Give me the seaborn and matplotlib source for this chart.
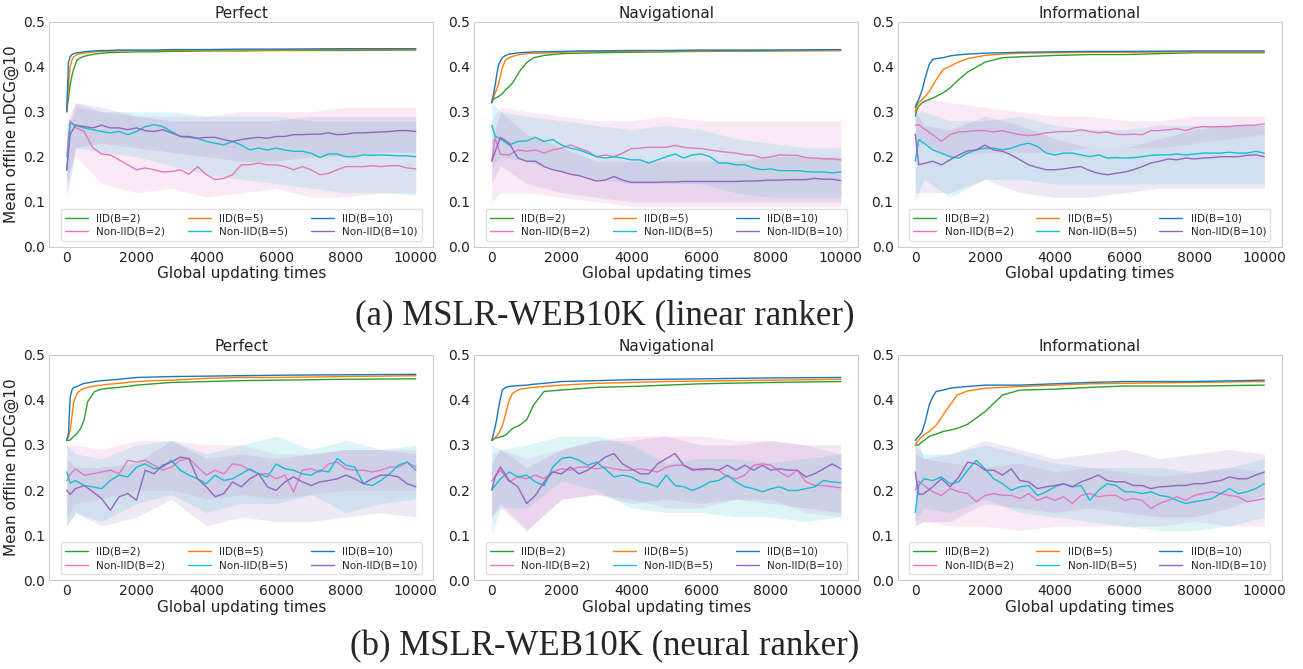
import matplotlib
matplotlib.use("Agg")
import matplotlib.pyplot as plt
import seaborn as sns

# x grids (global updating times)
X_IID = [0, 50, 100, 150, 200, 300, 400, 500, 600, 800, 1000, 1200, 1500,
         2000, 2500, 3000, 4000, 5000, 6000, 8000, 10000]
X_NON = [0, 100] + list(range(250, 10001, 250))
X_BAND = [0, 250, 1000, 2000, 3000, 4000, 5000, 6000, 7000, 8000, 9000, 10000]

# ---------- (a) linear ranker: Perfect ----------
lin_per_iid2 = [0.30, 0.33, 0.36, 0.38, 0.395, 0.415, 0.42, 0.423, 0.425, 0.428, 0.430,
                0.431, 0.432, 0.433, 0.433, 0.434, 0.435, 0.435, 0.436, 0.436, 0.437]
lin_per_iid5 = [0.30, 0.36, 0.40, 0.415, 0.422, 0.427, 0.429, 0.430, 0.431, 0.433, 0.434,
                0.434, 0.435, 0.436, 0.436, 0.436, 0.437, 0.437, 0.437, 0.438, 0.438]
lin_per_iid10 = [0.30, 0.41, 0.422, 0.427, 0.429, 0.431, 0.432, 0.433, 0.434, 0.435, 0.436,
                 0.436, 0.437, 0.437, 0.437, 0.438, 0.438, 0.439, 0.439, 0.440, 0.440]
lin_per_non2 = [0.20, 0.28, 0.265, 0.256, 0.22, 0.206, 0.204, 0.193, 0.182, 0.171, 0.175,
                0.171, 0.166, 0.167, 0.171, 0.161, 0.178, 0.160, 0.149, 0.152, 0.160, 0.182,
                0.182, 0.186, 0.182, 0.182, 0.178, 0.171, 0.178, 0.171, 0.160, 0.163, 0.171,
                0.178, 0.178, 0.178, 0.180, 0.178, 0.180, 0.180, 0.175, 0.173]
lin_per_non5 = [0.17, 0.275, 0.27, 0.264, 0.26, 0.256, 0.253, 0.256, 0.249, 0.256, 0.267,
                0.271, 0.267, 0.256, 0.245, 0.243, 0.241, 0.234, 0.23, 0.226, 0.234, 0.226,
                0.215, 0.219, 0.215, 0.219, 0.215, 0.212, 0.212, 0.208, 0.198, 0.206, 0.206,
                0.200, 0.200, 0.204, 0.203, 0.204, 0.203, 0.202, 0.202, 0.200]
lin_per_non10 = [0.17, 0.25, 0.27, 0.267, 0.264, 0.27, 0.264, 0.264, 0.26, 0.264, 0.258,
                 0.256, 0.26, 0.253, 0.245, 0.245, 0.241, 0.243, 0.243, 0.238, 0.234, 0.238,
                 0.241, 0.243, 0.241, 0.245, 0.245, 0.249, 0.249, 0.250, 0.250, 0.253, 0.249,
                 0.250, 0.253, 0.253, 0.254, 0.255, 0.256, 0.258, 0.258, 0.256]
lin_per_non2_lo = [0.12, 0.20, 0.14, 0.12, 0.13, 0.11, 0.12, 0.13, 0.11, 0.11, 0.12, 0.12]
lin_per_non2_hi = [0.28, 0.32, 0.30, 0.29, 0.29, 0.29, 0.30, 0.30, 0.30, 0.31, 0.31, 0.31]
lin_per_non5_lo = [0.11, 0.22, 0.21, 0.20, 0.18, 0.16, 0.15, 0.14, 0.13, 0.12, 0.12, 0.115]
lin_per_non5_hi = [0.24, 0.31, 0.30, 0.30, 0.30, 0.29, 0.29, 0.29, 0.28, 0.28, 0.28, 0.28]
lin_per_non10_lo = [0.14, 0.22, 0.23, 0.22, 0.21, 0.20, 0.19, 0.19, 0.20, 0.20, 0.21, 0.21]
lin_per_non10_hi = [0.26, 0.32, 0.31, 0.29, 0.28, 0.28, 0.28, 0.28, 0.29, 0.29, 0.29, 0.29]

# ---------- (a) linear ranker: Navigational ----------
lin_nav_iid2 = [0.32, 0.327, 0.33, 0.332, 0.334, 0.34, 0.349, 0.356, 0.364, 0.39, 0.409,
                0.42, 0.425, 0.429, 0.43, 0.431, 0.432, 0.433, 0.434, 0.435, 0.436]
lin_nav_iid5 = [0.32, 0.33, 0.342, 0.352, 0.364, 0.397, 0.416, 0.42, 0.423, 0.427, 0.429,
                0.43, 0.43, 0.432, 0.433, 0.434, 0.434, 0.435, 0.435, 0.436, 0.436]
lin_nav_iid10 = [0.32, 0.34, 0.36, 0.386, 0.405, 0.42, 0.425, 0.428, 0.429, 0.431, 0.432,
                 0.433, 0.433, 0.434, 0.435, 0.435, 0.436, 0.436, 0.437, 0.437, 0.438]
lin_nav_non2 = [0.19, 0.241, 0.205, 0.204, 0.215, 0.212, 0.215, 0.208, 0.215, 0.219, 0.226,
                0.219, 0.212, 0.200, 0.204, 0.200, 0.208, 0.218, 0.219, 0.221, 0.221, 0.221,
                0.225, 0.221, 0.219, 0.218, 0.215, 0.212, 0.210, 0.208, 0.204, 0.203, 0.197,
                0.200, 0.204, 0.203, 0.203, 0.198, 0.197, 0.195, 0.195, 0.193]
lin_nav_non5 = [0.27, 0.245, 0.24, 0.226, 0.234, 0.235, 0.243, 0.234, 0.238, 0.226, 0.219,
                0.215, 0.208, 0.200, 0.197, 0.200, 0.197, 0.193, 0.193, 0.186, 0.193, 0.200,
                0.206, 0.197, 0.204, 0.206, 0.200, 0.186, 0.186, 0.182, 0.182, 0.175, 0.171,
                0.173, 0.169, 0.169, 0.169, 0.167, 0.166, 0.166, 0.164, 0.166]
lin_nav_non10 = [0.19, 0.212, 0.243, 0.23, 0.197, 0.19, 0.19, 0.178, 0.171, 0.167, 0.161,
                 0.158, 0.152, 0.146, 0.148, 0.156, 0.148, 0.143, 0.143, 0.143, 0.143, 0.144,
                 0.144, 0.145, 0.145, 0.145, 0.145, 0.145, 0.145, 0.145, 0.146, 0.146, 0.147,
                 0.148, 0.148, 0.149, 0.149, 0.149, 0.152, 0.150, 0.150, 0.147]
lin_nav_non2_lo = [0.10, 0.12, 0.12, 0.11, 0.10, 0.09, 0.09, 0.09, 0.09, 0.09, 0.09, 0.09]
lin_nav_non2_hi = [0.28, 0.31, 0.30, 0.29, 0.28, 0.28, 0.29, 0.28, 0.28, 0.28, 0.28, 0.28]
lin_nav_non5_lo = [0.18, 0.20, 0.19, 0.17, 0.15, 0.14, 0.14, 0.14, 0.12, 0.11, 0.11, 0.11]
lin_nav_non5_hi = [0.32, 0.30, 0.29, 0.28, 0.27, 0.26, 0.27, 0.26, 0.24, 0.23, 0.22, 0.22]
lin_nav_non10_lo = [0.14, 0.18, 0.14, 0.12, 0.11, 0.10, 0.10, 0.10, 0.10, 0.10, 0.10, 0.10]
lin_nav_non10_hi = [0.24, 0.30, 0.25, 0.22, 0.19, 0.19, 0.19, 0.19, 0.19, 0.20, 0.20, 0.20]

# ---------- (a) linear ranker: Informational ----------
lin_inf_iid2 = [0.29, 0.305, 0.312, 0.316, 0.32, 0.324, 0.327, 0.33, 0.334, 0.342, 0.353,
                0.368, 0.388, 0.41, 0.42, 0.422, 0.425, 0.427, 0.427, 0.431, 0.431]
lin_inf_iid5 = [0.30, 0.315, 0.32, 0.324, 0.327, 0.335, 0.345, 0.358, 0.371, 0.394, 0.401,
                0.409, 0.418, 0.425, 0.428, 0.43, 0.431, 0.432, 0.432, 0.433, 0.433]
lin_inf_iid10 = [0.31, 0.32, 0.327, 0.338, 0.349, 0.379, 0.405, 0.416, 0.418, 0.42, 0.424,
                 0.426, 0.428, 0.43, 0.431, 0.432, 0.433, 0.434, 0.434, 0.435, 0.435]
lin_inf_non2 = [0.27, 0.271, 0.262, 0.249, 0.234, 0.249, 0.255, 0.256, 0.258, 0.258, 0.255,
                0.258, 0.253, 0.249, 0.247, 0.249, 0.253, 0.255, 0.256, 0.256, 0.260, 0.256,
                0.253, 0.255, 0.250, 0.249, 0.250, 0.249, 0.258, 0.258, 0.260, 0.262, 0.258,
                0.264, 0.267, 0.266, 0.267, 0.267, 0.269, 0.270, 0.270, 0.273]
lin_inf_non5 = [0.19, 0.238, 0.23, 0.215, 0.208, 0.200, 0.197, 0.208, 0.215, 0.219, 0.219,
                0.215, 0.219, 0.226, 0.230, 0.223, 0.208, 0.204, 0.208, 0.208, 0.204, 0.200,
                0.204, 0.197, 0.198, 0.197, 0.198, 0.200, 0.203, 0.204, 0.204, 0.206, 0.204,
                0.206, 0.208, 0.208, 0.208, 0.210, 0.208, 0.208, 0.212, 0.208]
lin_inf_non10 = [0.25, 0.182, 0.185, 0.19, 0.182, 0.193, 0.204, 0.213, 0.215, 0.226, 0.215,
                 0.212, 0.204, 0.193, 0.182, 0.176, 0.171, 0.171, 0.173, 0.176, 0.178, 0.169,
                 0.163, 0.160, 0.163, 0.166, 0.171, 0.178, 0.186, 0.190, 0.195, 0.193, 0.197,
                 0.195, 0.197, 0.198, 0.200, 0.200, 0.200, 0.203, 0.204, 0.200]
lin_inf_non2_lo = [0.22, 0.23, 0.20, 0.21, 0.21, 0.21, 0.22, 0.22, 0.22, 0.23, 0.24, 0.25]
lin_inf_non2_hi = [0.32, 0.33, 0.32, 0.31, 0.30, 0.29, 0.29, 0.28, 0.28, 0.29, 0.29, 0.29]
lin_inf_non5_lo = [0.10, 0.15, 0.11, 0.15, 0.15, 0.14, 0.14, 0.14, 0.14, 0.14, 0.14, 0.14]
lin_inf_non5_hi = [0.30, 0.30, 0.28, 0.28, 0.29, 0.27, 0.26, 0.26, 0.27, 0.27, 0.27, 0.27]
lin_inf_non10_lo = [0.12, 0.12, 0.12, 0.15, 0.12, 0.11, 0.11, 0.12, 0.13, 0.13, 0.13, 0.13]
lin_inf_non10_hi = [0.30, 0.27, 0.26, 0.29, 0.27, 0.24, 0.22, 0.22, 0.24, 0.26, 0.27, 0.27]

# ---------- (b) neural ranker: Perfect ----------
neu_per_iid2 = [0.31, 0.31, 0.311, 0.315, 0.319, 0.326, 0.337, 0.356, 0.396, 0.419, 0.424,
                0.426, 0.428, 0.433, 0.436, 0.439, 0.441, 0.443, 0.444, 0.446, 0.447]
neu_per_iid5 = [0.31, 0.318, 0.333, 0.363, 0.396, 0.415, 0.422, 0.426, 0.428, 0.431, 0.433,
                0.435, 0.437, 0.441, 0.443, 0.444, 0.448, 0.45, 0.45, 0.452, 0.454]
neu_per_iid10 = [0.31, 0.326, 0.407, 0.422, 0.428, 0.43, 0.434, 0.437, 0.438, 0.441, 0.443,
                 0.444, 0.446, 0.45, 0.451, 0.452, 0.453, 0.454, 0.455, 0.456, 0.457]
neu_per_non2 = [0.22, 0.235, 0.247, 0.233, 0.236, 0.240, 0.244, 0.236, 0.266, 0.262, 0.266,
                0.255, 0.244, 0.251, 0.266, 0.270, 0.251, 0.233, 0.244, 0.236, 0.258, 0.255,
                0.244, 0.236, 0.236, 0.225, 0.233, 0.196, 0.244, 0.247, 0.240, 0.258, 0.262,
                0.247, 0.244, 0.244, 0.240, 0.244, 0.251, 0.251, 0.262, 0.251]
neu_per_non5 = [0.24, 0.215, 0.221, 0.210, 0.207, 0.203, 0.221, 0.233, 0.229, 0.251, 0.258,
                0.247, 0.251, 0.266, 0.244, 0.233, 0.225, 0.214, 0.233, 0.221, 0.225, 0.236,
                0.247, 0.236, 0.229, 0.258, 0.247, 0.244, 0.236, 0.233, 0.244, 0.240, 0.270,
                0.255, 0.251, 0.214, 0.210, 0.221, 0.236, 0.255, 0.262, 0.244]
neu_per_non10 = [0.20, 0.19, 0.203, 0.210, 0.196, 0.181, 0.155, 0.185, 0.192, 0.177, 0.244,
                 0.236, 0.255, 0.262, 0.273, 0.270, 0.225, 0.207, 0.185, 0.192, 0.218, 0.207,
                 0.225, 0.236, 0.207, 0.199, 0.218, 0.229, 0.218, 0.210, 0.218, 0.221, 0.225,
                 0.233, 0.225, 0.214, 0.225, 0.233, 0.233, 0.229, 0.214, 0.207]
neu_per_non2_lo = [0.14, 0.17, 0.18, 0.20, 0.20, 0.18, 0.19, 0.18, 0.19, 0.20, 0.20, 0.20]
neu_per_non2_hi = [0.30, 0.30, 0.29, 0.31, 0.31, 0.30, 0.30, 0.28, 0.28, 0.29, 0.29, 0.29]
neu_per_non5_lo = [0.12, 0.15, 0.13, 0.17, 0.19, 0.15, 0.17, 0.17, 0.19, 0.15, 0.17, 0.18]
neu_per_non5_hi = [0.30, 0.28, 0.27, 0.30, 0.31, 0.28, 0.30, 0.32, 0.29, 0.31, 0.29, 0.30]
neu_per_non10_lo = [0.12, 0.15, 0.12, 0.14, 0.18, 0.12, 0.14, 0.13, 0.13, 0.14, 0.15, 0.14]
neu_per_non10_hi = [0.27, 0.25, 0.25, 0.26, 0.31, 0.27, 0.28, 0.27, 0.28, 0.29, 0.29, 0.28]

# ---------- (b) neural ranker: Navigational ----------
neu_nav_iid2 = [0.31, 0.312, 0.315, 0.316, 0.317, 0.319, 0.322, 0.33, 0.337, 0.344, 0.356,
                0.389, 0.419, 0.422, 0.425, 0.428, 0.43, 0.433, 0.436, 0.439, 0.441]
neu_nav_iid5 = [0.31, 0.314, 0.317, 0.321, 0.326, 0.341, 0.37, 0.40, 0.415, 0.424, 0.426,
                0.428, 0.43, 0.433, 0.435, 0.437, 0.439, 0.441, 0.442, 0.444, 0.446]
neu_nav_iid10 = [0.31, 0.325, 0.341, 0.36, 0.385, 0.422, 0.428, 0.43, 0.431, 0.432, 0.433,
                 0.435, 0.437, 0.441, 0.442, 0.443, 0.445, 0.446, 0.447, 0.449, 0.45]
neu_nav_non2 = [0.22, 0.23, 0.244, 0.218, 0.229, 0.225, 0.233, 0.225, 0.240, 0.247, 0.244,
                0.251, 0.251, 0.247, 0.251, 0.247, 0.244, 0.244, 0.247, 0.244, 0.240, 0.251,
                0.255, 0.255, 0.247, 0.244, 0.247, 0.244, 0.229, 0.225, 0.233, 0.255, 0.258,
                0.255, 0.240, 0.229, 0.244, 0.218, 0.210, 0.210, 0.207, 0.205]
neu_nav_non5 = [0.20, 0.21, 0.225, 0.240, 0.229, 0.233, 0.218, 0.210, 0.251, 0.270, 0.273,
                0.266, 0.255, 0.262, 0.247, 0.229, 0.233, 0.229, 0.218, 0.214, 0.207, 0.233,
                0.210, 0.207, 0.199, 0.207, 0.218, 0.221, 0.233, 0.218, 0.207, 0.203, 0.196,
                0.203, 0.207, 0.199, 0.199, 0.203, 0.207, 0.221, 0.218, 0.216]
neu_nav_non10 = [0.20, 0.23, 0.251, 0.221, 0.207, 0.170, 0.188, 0.218, 0.240, 0.236, 0.251,
                 0.236, 0.244, 0.258, 0.273, 0.281, 0.258, 0.247, 0.236, 0.236, 0.258, 0.270,
                 0.281, 0.255, 0.244, 0.247, 0.247, 0.244, 0.255, 0.244, 0.255, 0.244, 0.255,
                 0.244, 0.247, 0.244, 0.244, 0.229, 0.236, 0.247, 0.258, 0.247]
neu_nav_non2_lo = [0.14, 0.16, 0.11, 0.18, 0.19, 0.18, 0.16, 0.16, 0.18, 0.18, 0.15, 0.14]
neu_nav_non2_hi = [0.28, 0.29, 0.27, 0.29, 0.31, 0.32, 0.32, 0.32, 0.31, 0.31, 0.30, 0.28]
neu_nav_non5_lo = [0.10, 0.16, 0.16, 0.22, 0.20, 0.16, 0.15, 0.15, 0.14, 0.14, 0.13, 0.14]
neu_nav_non5_hi = [0.30, 0.29, 0.30, 0.32, 0.32, 0.30, 0.26, 0.27, 0.27, 0.26, 0.27, 0.28]
neu_nav_non10_lo = [0.14, 0.17, 0.11, 0.18, 0.19, 0.17, 0.18, 0.17, 0.18, 0.17, 0.16, 0.15]
neu_nav_non10_hi = [0.26, 0.29, 0.25, 0.29, 0.31, 0.31, 0.32, 0.30, 0.30, 0.31, 0.30, 0.30]

# ---------- (b) neural ranker: Informational ----------
neu_inf_iid2 = [0.30, 0.30, 0.30, 0.304, 0.307, 0.313, 0.319, 0.322, 0.324, 0.33, 0.333,
                0.337, 0.346, 0.374, 0.411, 0.422, 0.424, 0.428, 0.431, 0.431, 0.433]
neu_inf_iid5 = [0.30, 0.306, 0.311, 0.315, 0.319, 0.325, 0.33, 0.337, 0.344, 0.367, 0.389,
                0.411, 0.42, 0.426, 0.428, 0.43, 0.433, 0.436, 0.437, 0.439, 0.441]
neu_inf_iid10 = [0.31, 0.315, 0.319, 0.324, 0.33, 0.356, 0.389, 0.407, 0.419, 0.422, 0.426,
                 0.428, 0.43, 0.433, 0.433, 0.433, 0.436, 0.439, 0.441, 0.441, 0.444]
neu_inf_non2 = [0.20, 0.22, 0.210, 0.196, 0.188, 0.203, 0.196, 0.192, 0.174, 0.188, 0.192,
                0.188, 0.188, 0.181, 0.192, 0.177, 0.185, 0.177, 0.185, 0.170, 0.188, 0.192,
                0.185, 0.188, 0.188, 0.177, 0.181, 0.177, 0.159, 0.170, 0.177, 0.185, 0.177,
                0.188, 0.192, 0.196, 0.192, 0.188, 0.185, 0.174, 0.177, 0.181]
neu_inf_non5 = [0.15, 0.21, 0.225, 0.221, 0.229, 0.214, 0.218, 0.244, 0.266, 0.247, 0.225,
                0.214, 0.199, 0.207, 0.210, 0.188, 0.196, 0.207, 0.214, 0.207, 0.210, 0.177,
                0.199, 0.214, 0.210, 0.196, 0.196, 0.192, 0.196, 0.188, 0.185, 0.177, 0.170,
                0.174, 0.177, 0.181, 0.192, 0.203, 0.192, 0.196, 0.203, 0.214]
neu_inf_non10 = [0.24, 0.19, 0.192, 0.207, 0.225, 0.207, 0.229, 0.262, 0.258, 0.244, 0.244,
                 0.233, 0.247, 0.221, 0.218, 0.203, 0.207, 0.210, 0.214, 0.207, 0.218, 0.225,
                 0.233, 0.221, 0.218, 0.218, 0.210, 0.210, 0.203, 0.207, 0.208, 0.210, 0.210,
                 0.214, 0.214, 0.218, 0.221, 0.229, 0.225, 0.225, 0.233, 0.240]
neu_inf_non2_lo = [0.12, 0.13, 0.12, 0.12, 0.11, 0.12, 0.12, 0.12, 0.12, 0.13, 0.12, 0.12]
neu_inf_non2_hi = [0.28, 0.27, 0.26, 0.25, 0.26, 0.24, 0.25, 0.24, 0.23, 0.24, 0.25, 0.24]
neu_inf_non5_lo = [0.13, 0.16, 0.15, 0.18, 0.15, 0.14, 0.13, 0.12, 0.11, 0.11, 0.12, 0.14]
neu_inf_non5_hi = [0.30, 0.28, 0.28, 0.30, 0.28, 0.26, 0.25, 0.25, 0.25, 0.24, 0.25, 0.27]
neu_inf_non10_lo = [0.12, 0.13, 0.13, 0.17, 0.16, 0.15, 0.16, 0.15, 0.14, 0.14, 0.16, 0.19]
neu_inf_non10_hi = [0.32, 0.27, 0.28, 0.31, 0.29, 0.27, 0.28, 0.29, 0.27, 0.28, 0.29, 0.28]

LABELS = ["IID(B=2)", "IID(B=5)", "IID(B=10)",
          "Non-IID(B=2)", "Non-IID(B=5)", "Non-IID(B=10)"]
COLORS = ["#2ca02c", "#ff7f0e", "#1f77b4", "#e377c2", "#17becf", "#9467bd"]
TITLES = ["Perfect", "Navigational", "Informational"]

panels = [
    (lin_per_iid2, lin_per_iid5, lin_per_iid10, lin_per_non2, lin_per_non5, lin_per_non10,
     [(lin_per_non2_lo, lin_per_non2_hi), (lin_per_non5_lo, lin_per_non5_hi),
      (lin_per_non10_lo, lin_per_non10_hi)]),
    (lin_nav_iid2, lin_nav_iid5, lin_nav_iid10, lin_nav_non2, lin_nav_non5, lin_nav_non10,
     [(lin_nav_non2_lo, lin_nav_non2_hi), (lin_nav_non5_lo, lin_nav_non5_hi),
      (lin_nav_non10_lo, lin_nav_non10_hi)]),
    (lin_inf_iid2, lin_inf_iid5, lin_inf_iid10, lin_inf_non2, lin_inf_non5, lin_inf_non10,
     [(lin_inf_non2_lo, lin_inf_non2_hi), (lin_inf_non5_lo, lin_inf_non5_hi),
      (lin_inf_non10_lo, lin_inf_non10_hi)]),
    (neu_per_iid2, neu_per_iid5, neu_per_iid10, neu_per_non2, neu_per_non5, neu_per_non10,
     [(neu_per_non2_lo, neu_per_non2_hi), (neu_per_non5_lo, neu_per_non5_hi),
      (neu_per_non10_lo, neu_per_non10_hi)]),
    (neu_nav_iid2, neu_nav_iid5, neu_nav_iid10, neu_nav_non2, neu_nav_non5, neu_nav_non10,
     [(neu_nav_non2_lo, neu_nav_non2_hi), (neu_nav_non5_lo, neu_nav_non5_hi),
      (neu_nav_non10_lo, neu_nav_non10_hi)]),
    (neu_inf_iid2, neu_inf_iid5, neu_inf_iid10, neu_inf_non2, neu_inf_non5, neu_inf_non10,
     [(neu_inf_non2_lo, neu_inf_non2_hi), (neu_inf_non5_lo, neu_inf_non5_hi),
      (neu_inf_non10_lo, neu_inf_non10_hi)]),
]

sns.set_style("white", {"axes.edgecolor": "0.8"})
plt.rcParams["font.family"] = ["DejaVu Sans"]

fig = plt.figure(figsize=(13.03, 6.69), dpi=100)

lefts = [0.0378, 0.364, 0.689]
bottoms = [0.6312, 0.133]
W, H = 0.2947, 0.3364

for k, panel in enumerate(panels):
    row, col = divmod(k, 3)
    ax = fig.add_axes([lefts[col], bottoms[row], W, H])
    iid_series = panel[:3]
    non_series = panel[3:6]
    bands = panel[6]

    # shaded spread of the non-IID runs
    for (lo, hi), c in zip(bands, COLORS[3:]):
        ax.fill_between(X_BAND, lo, hi, color=c, alpha=0.15, linewidth=0)

    for y, c, lab in zip(iid_series, COLORS[:3], LABELS[:3]):
        sns.lineplot(x=X_IID, y=y, ax=ax, color=c, linewidth=1.0, label=lab)
    for y, c, lab in zip(non_series, COLORS[3:], LABELS[3:]):
        sns.lineplot(x=X_NON, y=y, ax=ax, color=c, linewidth=1.0, label=lab)

    h, l = ax.get_legend_handles_labels()
    order = [0, 3, 1, 4, 2, 5]
    ax.legend([h[i] for i in order], [l[i] for i in order], ncol=3,
              loc="lower left", bbox_to_anchor=(0.03, 0.025, 0.94, 0.155),
              mode="expand", fontsize=7.5, frameon=True, edgecolor="0.85",
              handlelength=2.2, borderaxespad=0.0, columnspacing=1.0,
              labelspacing=0.35)

    ax.set_xlim(-500, 10500)
    ax.set_ylim(0, 0.5)
    ax.set_xticks([0, 2000, 4000, 6000, 8000, 10000])
    ax.set_yticks([0.0, 0.1, 0.2, 0.3, 0.4, 0.5])
    ax.set_yticklabels(["0.0", "0.1", "0.2", "0.3", "0.4", "0.5"])
    ax.tick_params(labelsize=10, length=0, pad=3, colors="#222222")
    ax.set_title(TITLES[col], fontsize=11, pad=3, color="#222222")
    ax.set_xlabel("Global updating times", fontsize=11, labelpad=1, color="#222222")
    if col == 0:
        ax.set_ylabel("Mean offline nDCG@10", fontsize=11, labelpad=3, color="#222222")
    else:
        ax.set_ylabel("")

fig.text(0.464, 0.528, "(a) MSLR-WEB10K (linear ranker)", ha="center", va="center",
         fontsize=25, family="Liberation Serif")
fig.text(0.464, 0.033, "(b) MSLR-WEB10K (neural ranker)", ha="center", va="center",
         fontsize=25, family="Liberation Serif")

fig.savefig("out.png", dpi=100)
